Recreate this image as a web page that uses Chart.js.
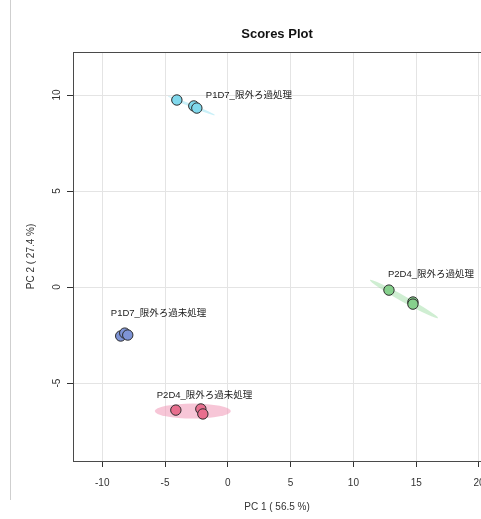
<!DOCTYPE html>
<html>
<head>
<meta charset="utf-8">
<script src="https://cdn.jsdelivr.net/npm/chart.js@4/dist/chart.umd.min.js"></script>
<style>
  html, body { margin: 0; padding: 0; background: #fff; overflow: hidden; }
  canvas { display: block; }
</style>
</head>
<body>
<canvas id="c" width="481" height="519"></canvas>
<script>
// Group names (one per sample group)
const groups = ['P1D7_限外ろ過処理', 'P2D4_限外ろ過処理', 'P1D7_限外ろ過未処理', 'P2D4_限外ろ過未処理'];

// PCA scores per group
const pc1Scores = [
  [-4.06, -2.71, -2.47],
  [12.83, 14.74, 14.74],
  [-8.53, -8.21, -7.97],
  [-4.14, -2.15, -1.99]
];
const pc2Scores = [
  [9.74, 9.43, 9.32],
  [-0.16, -0.78, -0.89],
  [-2.55, -2.40, -2.50],
  [-6.41, -6.35, -6.61]
];

// Confidence ellipse per group: centre and the two semi-axis vectors (PC1, PC2 units)
const ellipseCenterX = [-2.91, 14.02, -8.24, -2.79];
const ellipseCenterY = [9.45, -0.625, -2.48, -6.46];
const ellipseAxisA = [[1.87, -0.495], [2.71, -0.99], [0.30, 0.05], [3.03, 0.0]];
const ellipseAxisB = [[-0.045, -0.072], [-0.117, -0.136], [0.02, 0.12], [0.0, 0.39]];

// Group label anchors (left end of each label)
const labelX = [-1.75, 12.75, -9.32, -5.66];
const labelY = [10.0, 0.68, -1.35, -5.62];

// Axis ticks
const xTicks = [-10, -5, 0, 5, 10, 15, 20];
const yTicks = [-5, 0, 5, 10];

const pointColors = ['#80d8ec', '#86d08c', '#7e94d6', '#e86e8e'];
const ellipseColors = ['rgba(150,225,242,0.5)', 'rgba(160,222,166,0.5)', 'rgba(140,160,222,0.4)', 'rgba(242,160,188,0.6)'];

const FONT = '"Liberation Sans", Arial, "Noto Sans CJK JP", sans-serif';

const datasets = groups.map((g, i) => ({
  label: g,
  data: pc1Scores[i].map((x, j) => ({ x: x, y: pc2Scores[i][j] })),
  backgroundColor: pointColors[i],
  borderColor: '#2b2b2b',
  borderWidth: 1,
  pointRadius: 5.2,
  pointHoverRadius: 5.2
}));

const decorations = {
  id: 'decorations',
  beforeDraw(chart) {
    const ctx = chart.ctx;
    ctx.save();
    ctx.strokeStyle = '#cfcfcf';
    ctx.lineWidth = 1;
    ctx.beginPath();
    ctx.moveTo(10.5, 0);
    ctx.lineTo(10.5, 500);
    ctx.stroke();
    ctx.restore();
  },
  beforeDatasetsDraw(chart) {
    const ctx = chart.ctx;
    const xs = chart.scales.x, ys = chart.scales.y;
    const area = chart.chartArea;
    ctx.save();
    ctx.beginPath();
    ctx.rect(area.left, area.top, area.right - area.left, area.bottom - area.top);
    ctx.clip();
    groups.forEach((g, i) => {
      const cx = xs.getPixelForValue(ellipseCenterX[i]);
      const cy = ys.getPixelForValue(ellipseCenterY[i]);
      const ax = xs.getPixelForValue(ellipseCenterX[i] + ellipseAxisA[i][0]) - cx;
      const ay = ys.getPixelForValue(ellipseCenterY[i] + ellipseAxisA[i][1]) - cy;
      const bx = xs.getPixelForValue(ellipseCenterX[i] + ellipseAxisB[i][0]) - cx;
      const by = ys.getPixelForValue(ellipseCenterY[i] + ellipseAxisB[i][1]) - cy;
      ctx.save();
      ctx.transform(ax, ay, bx, by, cx, cy);
      ctx.beginPath();
      ctx.arc(0, 0, 1, 0, Math.PI * 2);
      ctx.restore();
      ctx.fillStyle = ellipseColors[i];
      ctx.fill();
    });
    ctx.restore();
  },
  afterDatasetsDraw(chart) {
    const ctx = chart.ctx;
    const xs = chart.scales.x, ys = chart.scales.y;
    const area = chart.chartArea;
    ctx.save();
    // plot frame
    ctx.strokeStyle = '#4a4a4a';
    ctx.lineWidth = 1;
    ctx.strokeRect(area.left + 0.5, area.top + 0.5, area.right - area.left, area.bottom - area.top);
    // group labels
    ctx.fillStyle = '#1a1a1a';
    ctx.font = '9.5px ' + FONT;
    ctx.textAlign = 'left';
    ctx.textBaseline = 'middle';
    groups.forEach((g, i) => {
      ctx.fillText(g, xs.getPixelForValue(labelX[i]), ys.getPixelForValue(labelY[i]));
    });
    ctx.restore();
  }
};

new Chart(document.getElementById('c'), {
  type: 'scatter',
  data: { datasets },
  options: {
    responsive: false,
    animation: false,
    layout: { autoPadding: false, padding: { left: 0, right: 0, top: 0, bottom: 0 } },
    plugins: {
      legend: { display: false },
      tooltip: { enabled: false },
      title: {
        display: true,
        text: 'Scores Plot',
        fullSize: false,
        color: '#111',
        font: { family: FONT, size: 13, weight: 'bold' },
        padding: { top: 27, bottom: 9.4 }
      }
    },
    scales: {
      x: {
        type: 'linear',
        min: -12.33,
        max: 20.16,
        afterBuildTicks(scale) { scale.ticks = xTicks.map(v => ({ value: v })); },
        afterFit(scale) { scale.height = 58; scale.paddingLeft = 0; scale.paddingRight = 0; },
        grid: { color: '#e4e4e4', tickColor: '#333', tickLength: 6, lineWidth: 1 },
        border: { display: true, color: '#333' },
        ticks: { color: '#333', font: { family: FONT, size: 10 }, padding: 10, maxRotation: 0, minRotation: 0 },
        title: { display: true, text: 'PC 1 ( 56.5 %)', color: '#333', font: { family: FONT, size: 10 }, padding: { top: 0, bottom: 6 } }
      },
      y: {
        type: 'linear',
        min: -9.06,
        max: 12.24,
        afterBuildTicks(scale) { scale.ticks = yTicks.map(v => ({ value: v })); },
        afterFit(scale) { scale.width = 73; scale.paddingTop = 0; scale.paddingBottom = 0; },
        grid: { color: '#e4e4e4', tickColor: '#333', tickLength: 6, lineWidth: 1 },
        border: { display: true, color: '#333' },
        ticks: { color: '#333', font: { family: FONT, size: 10 }, padding: 4, minRotation: 90, maxRotation: 90, crossAlign: 'center' },
        title: { display: true, text: 'PC 2 ( 27.4 %)', color: '#333', font: { family: FONT, size: 10 }, padding: { top: 25, bottom: 0 } }
      }
    }
  },
  plugins: [decorations]
});
</script>
</body>
</html>
